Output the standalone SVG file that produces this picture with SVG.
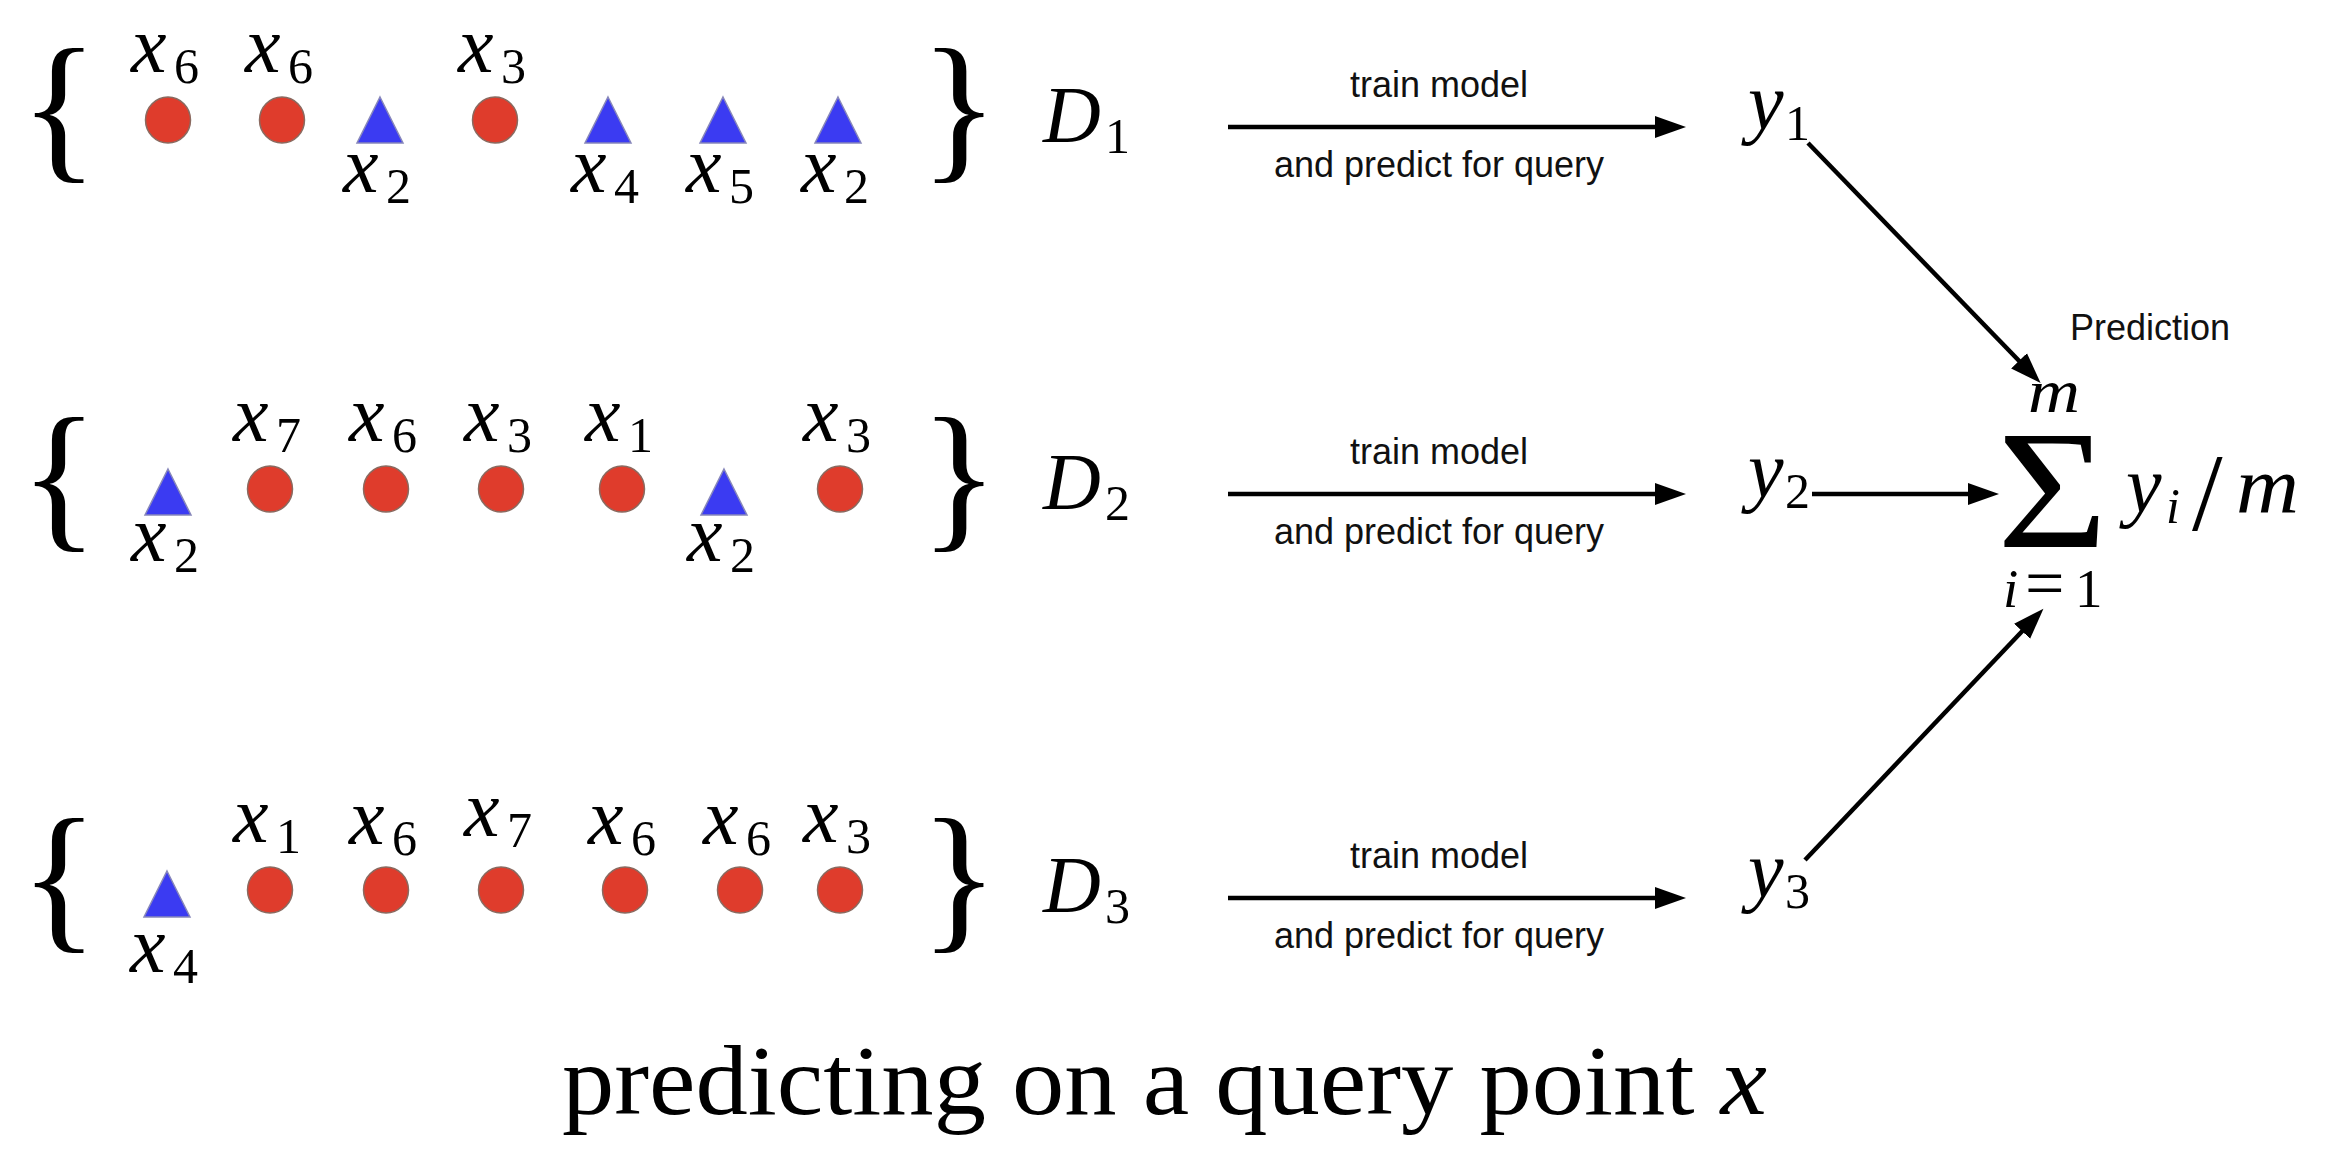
<svg xmlns="http://www.w3.org/2000/svg" width="2326" height="1150" viewBox="0 0 2326 1150">
<defs>
<marker id="ah" markerUnits="userSpaceOnUse" markerWidth="32" markerHeight="24" refX="10" refY="12" orient="auto" viewBox="0 0 32 24">
<path d="M0,1 L31,12 L0,23 z" fill="#000"/>
</marker>
</defs>
<style>
.c{fill:#df3c2c;stroke:#8a6a60;stroke-width:1.5}
.t{fill:#3b3bf2;stroke:#8888bb;stroke-width:1.5}
.mi{font-family:"Liberation Serif",serif;font-style:italic;font-size:80px;fill:#000}
.sb{font-family:"Liberation Serif",serif;font-size:50px;fill:#000}
.br{font-family:"Liberation Serif",serif;font-size:163px;fill:#000}
.lb{font-family:"Liberation Sans",Arial,sans-serif;font-size:36px;fill:#111;text-anchor:middle}
.ln{stroke:#000;stroke-width:4.5;fill:none;marker-end:url(#ah)}
.ti{font-family:"Liberation Serif",serif;font-size:100px;fill:#000}
</style>
<rect width="2326" height="1150" fill="#fff"/>

<!-- Row 1 -->
<g id="set1">
<text class="br" x="20" y="161">{</text>
<g id="r1p1"><ellipse class="c" cx="168" cy="120" rx="22.5" ry="23"/><text class="mi" x="131" y="72">x</text><text class="sb" x="174" y="83">6</text></g>
<g id="r1p2"><ellipse class="c" cx="282" cy="120" rx="22.5" ry="23"/><text class="mi" x="245" y="72">x</text><text class="sb" x="288" y="83">6</text></g>
<g id="r1p3"><polygon class="t" points="380,97 403,143 357,143"/><text class="mi" x="343" y="192">x</text><text class="sb" x="386" y="203">2</text></g>
<g id="r1p4"><ellipse class="c" cx="495" cy="120" rx="22.5" ry="23"/><text class="mi" x="458" y="72">x</text><text class="sb" x="501" y="83">3</text></g>
<g id="r1p5"><polygon class="t" points="608,97 631,143 585,143"/><text class="mi" x="571" y="192">x</text><text class="sb" x="614" y="203">4</text></g>
<g id="r1p6"><polygon class="t" points="723,97 746,143 700,143"/><text class="mi" x="686" y="192">x</text><text class="sb" x="729" y="203">5</text></g>
<g id="r1p7"><polygon class="t" points="838,97 861,143 815,143"/><text class="mi" x="801" y="192">x</text><text class="sb" x="844" y="203">2</text></g>
<text class="br" x="920" y="161">}</text>
</g>
<g id="D1"><text class="mi" x="1043" y="142" style="font-size:80px">D</text><text class="sb" x="1105" y="153">1</text></g>

<!-- Row 2 -->
<g id="set2">
<text class="br" x="20" y="530">{</text>
<g id="r2p1"><polygon class="t" points="168,469 191,515 145,515"/><text class="mi" x="131" y="561">x</text><text class="sb" x="174" y="572">2</text></g>
<g id="r2p2"><ellipse class="c" cx="270" cy="489" rx="22.5" ry="23"/><text class="mi" x="233" y="441">x</text><text class="sb" x="276" y="452">7</text></g>
<g id="r2p3"><ellipse class="c" cx="386" cy="489" rx="22.5" ry="23"/><text class="mi" x="349" y="441">x</text><text class="sb" x="392" y="452">6</text></g>
<g id="r2p4"><ellipse class="c" cx="501" cy="489" rx="22.5" ry="23"/><text class="mi" x="464" y="441">x</text><text class="sb" x="507" y="452">3</text></g>
<g id="r2p5"><ellipse class="c" cx="622" cy="489" rx="22.5" ry="23"/><text class="mi" x="585" y="441">x</text><text class="sb" x="628" y="452">1</text></g>
<g id="r2p6"><polygon class="t" points="724,469 747,515 701,515"/><text class="mi" x="687" y="561">x</text><text class="sb" x="730" y="572">2</text></g>
<g id="r2p7"><ellipse class="c" cx="840" cy="489" rx="22.5" ry="23"/><text class="mi" x="803" y="441">x</text><text class="sb" x="846" y="452">3</text></g>
<text class="br" x="920" y="530">}</text>
</g>
<g id="D2"><text class="mi" x="1043" y="509" style="font-size:80px">D</text><text class="sb" x="1105" y="520">2</text></g>

<!-- Row 3 -->
<g id="set3">
<text class="br" x="20" y="931">{</text>
<g id="r3p1"><polygon class="t" points="167,871 190,917 144,917"/><text class="mi" x="130" y="972">x</text><text class="sb" x="173" y="983">4</text></g>
<g id="r3p2"><ellipse class="c" cx="270" cy="890" rx="22.5" ry="23"/><text class="mi" x="233" y="842">x</text><text class="sb" x="276" y="853">1</text></g>
<g id="r3p3"><ellipse class="c" cx="386" cy="890" rx="22.5" ry="23"/><text class="mi" x="349" y="844">x</text><text class="sb" x="392" y="855">6</text></g>
<g id="r3p4"><ellipse class="c" cx="501" cy="890" rx="22.5" ry="23"/><text class="mi" x="464" y="836">x</text><text class="sb" x="507" y="847">7</text></g>
<g id="r3p5"><ellipse class="c" cx="625" cy="890" rx="22.5" ry="23"/><text class="mi" x="588" y="844">x</text><text class="sb" x="631" y="855">6</text></g>
<g id="r3p6"><ellipse class="c" cx="740" cy="890" rx="22.5" ry="23"/><text class="mi" x="703" y="844">x</text><text class="sb" x="746" y="855">6</text></g>
<g id="r3p7"><ellipse class="c" cx="840" cy="890" rx="22.5" ry="23"/><text class="mi" x="803" y="842">x</text><text class="sb" x="846" y="853">3</text></g>
<text class="br" x="920" y="931">}</text>
</g>
<g id="D3"><text class="mi" x="1043" y="912" style="font-size:80px">D</text><text class="sb" x="1105" y="923">3</text></g>

<!-- outputs -->
<g id="y1"><text class="mi" x="1748" y="129">y</text><text class="sb" x="1785" y="140">1</text></g>
<g id="y2"><text class="mi" x="1748" y="497">y</text><text class="sb" x="1785" y="508">2</text></g>
<g id="y3"><text class="mi" x="1748" y="897">y</text><text class="sb" x="1785" y="908">3</text></g>

<g id="sum">
<text x="2028" y="412" class="mi" style="font-size:62px" textLength="52" lengthAdjust="spacingAndGlyphs">m</text>
<text transform="translate(1997,547) scale(1.12,1)" style="font-family:'Liberation Serif',serif;font-size:170px">Σ</text>
<text class="mi" x="2003" y="607" style="font-size:55px">i</text>
<text class="sb" x="2025" y="607" style="font-size:70px">=</text>
<text class="sb" x="2075" y="607" style="font-size:55px">1</text>
<text class="mi" x="2126" y="512">y</text>
<text class="mi" x="2166" y="523" style="font-size:50px">i</text>
<text class="sb" x="2192" y="530" style="font-size:110px">/</text>
<text class="mi" x="2236" y="512" textLength="63" lengthAdjust="spacingAndGlyphs">m</text>
</g>

<g id="connectors">
<line class="ln" x1="1228" y1="127" x2="1665" y2="127"/>
<line class="ln" x1="1228" y1="494" x2="1665" y2="494"/>
<line class="ln" x1="1228" y1="898" x2="1665" y2="898"/>
<line class="ln" x1="1812" y1="494" x2="1978" y2="494"/>
<line class="ln" x1="1808" y1="143" x2="2026" y2="368"/>
<line class="ln" x1="1805" y1="860" x2="2029" y2="624"/>
<text class="lb" x="1439" y="97">train model</text>
<text class="lb" x="1439" y="177">and predict for query</text>
<text class="lb" x="1439" y="464">train model</text>
<text class="lb" x="1439" y="544">and predict for query</text>
<text class="lb" x="1439" y="868">train model</text>
<text class="lb" x="1439" y="948">and predict for query</text>
<text class="lb" x="2150" y="340">Prediction</text>
</g>

<g id="title"><text class="ti" x="562" y="1114" textLength="1205" lengthAdjust="spacingAndGlyphs">predicting on a query point <tspan style="font-style:italic">x</tspan></text></g>
</svg>
